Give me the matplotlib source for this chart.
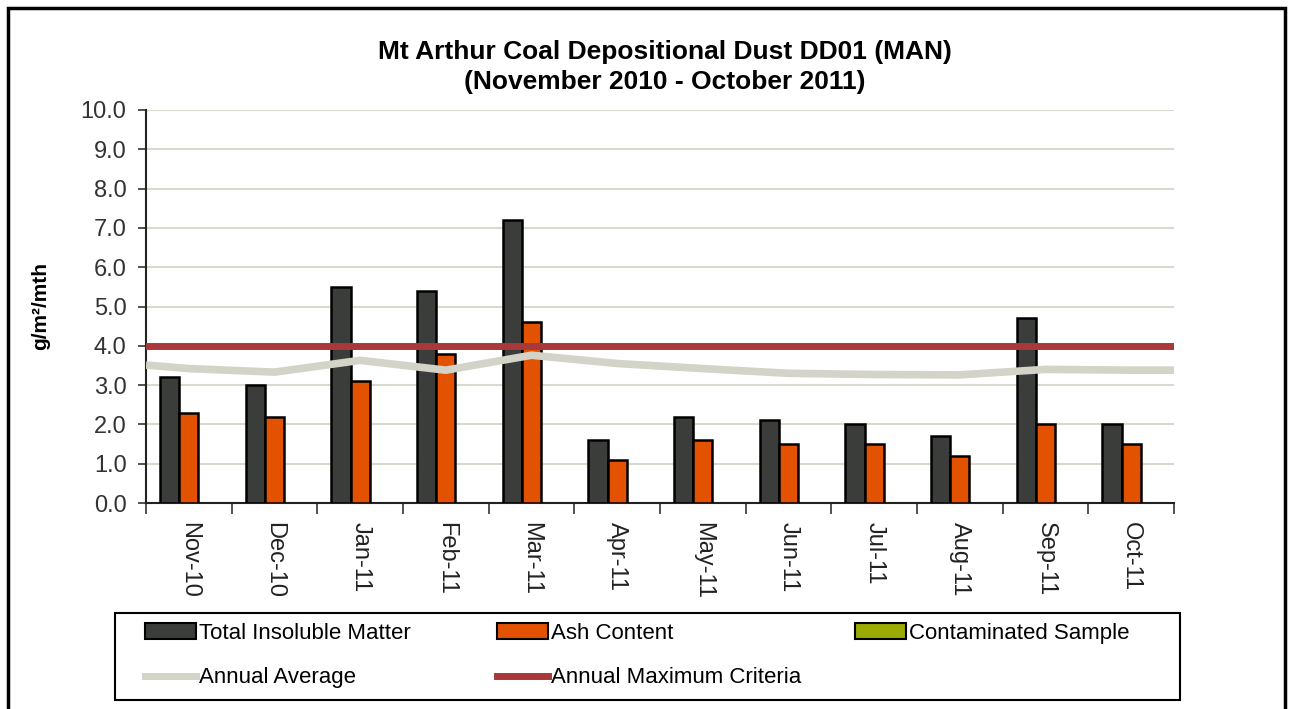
import matplotlib
matplotlib.use("Agg")
import matplotlib.pyplot as plt
import numpy as np
from matplotlib.patches import Rectangle, Patch
from matplotlib.lines import Line2D

months = ["Nov-10", "Dec-10", "Jan-11", "Feb-11", "Mar-11", "Apr-11",
          "May-11", "Jun-11", "Jul-11", "Aug-11", "Sep-11", "Oct-11"]
total_insoluble = [3.2, 3.0, 5.5, 5.4, 7.2, 1.6, 2.2, 2.1, 2.0, 1.7, 4.7, 2.0]
ash_content = [2.3, 2.2, 3.1, 3.8, 4.6, 1.1, 1.6, 1.5, 1.5, 1.2, 2.0, 1.5]
contaminated = [0, 0, 0, 0, 0, 0, 0, 0, 0, 0, 0, 0]
annual_average = [3.42, 3.33, 3.63, 3.38, 3.76, 3.55, 3.42, 3.30, 3.27, 3.26, 3.40, 3.38]
avg_start, avg_end = 3.51, 3.38
max_criteria = 4.0
yticks = [0, 1, 2, 3, 4, 5, 6, 7, 8, 9, 10]

W, H = 1291, 709
fig = plt.figure(figsize=(W / 100, H / 100), dpi=100)
fig.patch.set_facecolor("white")

# outer frame
fig.patches.append(Rectangle((8 / W, -0.05), (1285 - 8) / W, 1 - 8 / H + 0.05,
                             transform=fig.transFigure, fill=False,
                             edgecolor="black", linewidth=2.5, zorder=0))

ax = fig.add_axes([146 / W, 1 - 503 / H, (1174 - 146) / W, (503 - 110) / H])

c_tim = "#3b3d3b"
c_ash = "#e35200"
c_con = "#9aaa00"
c_avg = "#d3d3c7"
c_max = "#a8383a"

x = np.arange(len(months))
bw = 0.225
ax.bar(x - bw, total_insoluble, bw, color=c_tim, edgecolor="black", linewidth=1.8, zorder=3)
ax.bar(x, ash_content, bw, color=c_ash, edgecolor="black", linewidth=1.8, zorder=3)
ax.bar(x + bw, contaminated, bw, color=c_con, edgecolor="none", linewidth=0, zorder=3)

ax_x = np.concatenate([[-0.5], x, [len(months) - 0.5]])
ax_y = np.concatenate([[avg_start], annual_average, [avg_end]])
ax.plot(ax_x, ax_y, color=c_avg, linewidth=5.5, zorder=4, solid_capstyle="butt")
ax.axhline(max_criteria, color=c_max, linewidth=5, zorder=5)

ax.set_xlim(-0.5, len(months) - 0.5)
ax.set_ylim(0, 10)
ax.set_yticks(yticks)
ax.set_yticklabels([f"{v:.1f}" for v in yticks], fontsize=17, color="#333333",
                   family="Liberation Sans")
ax.set_xticks(x)
ax.set_xticklabels(months, rotation=-90, fontsize=17, color="#222222",
                   family="Liberation Sans", va="top", ha="center")
ax.set_xticks(np.arange(len(months) + 1) - 0.5, minor=True)
ax.tick_params(axis="x", which="major", length=0, pad=14)
ax.tick_params(axis="x", which="minor", length=8, width=1.2, color="#333333", direction="out")
ax.tick_params(axis="y", length=6, width=1.2, color="#333333", pad=8)

ax.grid(axis="y", color="#d9d9cd", linewidth=1.5, zorder=0)
ax.set_axisbelow(True)
for s in ["top", "right"]:
    ax.spines[s].set_visible(False)
for s in ["left", "bottom"]:
    ax.spines[s].set_color("#222222")
    ax.spines[s].set_linewidth(1.5)

ax.set_ylabel("g/m²/mth", fontsize=15, fontweight="bold", family="Liberation Sans", labelpad=22)

fig.text(665 / W, 1 - 52 / H, "Mt Arthur Coal Depositional Dust DD01 (MAN)",
         ha="center", va="center", fontsize=19, fontweight="bold",
         family="Liberation Sans")
fig.text(665 / W, 1 - 82 / H, "(November 2010 - October 2011)",
         ha="center", va="center", fontsize=19, fontweight="bold",
         family="Liberation Sans")

# legend: frame plus three equally spaced columns
fig.patches.append(Rectangle((115 / W, 1 - 700 / H), (1180 - 115) / W, (700 - 613) / H,
                             transform=fig.transFigure, fill=True, facecolor="white",
                             edgecolor="black", linewidth=1.5, zorder=1))
columns = [
    ([Patch(facecolor=c_tim, edgecolor="black", linewidth=1.5),
      Line2D([], [], color=c_avg, linewidth=5)],
     ["Total Insoluble Matter", "Annual Average"], 145),
    ([Patch(facecolor=c_ash, edgecolor="black", linewidth=1.5),
      Line2D([], [], color=c_max, linewidth=5)],
     ["Ash Content", "Annual Maximum Criteria"], 497),
    ([Patch(facecolor=c_con, edgecolor="black", linewidth=1.5)],
     ["Contaminated Sample"], 855),
]
for hs, ls, xpix in columns:
    lg = fig.legend(hs, ls, loc="upper left", bbox_to_anchor=(xpix / W, 1 - 623 / H),
                    frameon=False, prop={"family": "Liberation Sans", "size": 16},
                    handlelength=2.3, handleheight=0.7, handletextpad=0.15,
                    borderaxespad=0, borderpad=0, labelspacing=1.05)
    lg.set_zorder(2)

fig.savefig("out.png", dpi=100)
